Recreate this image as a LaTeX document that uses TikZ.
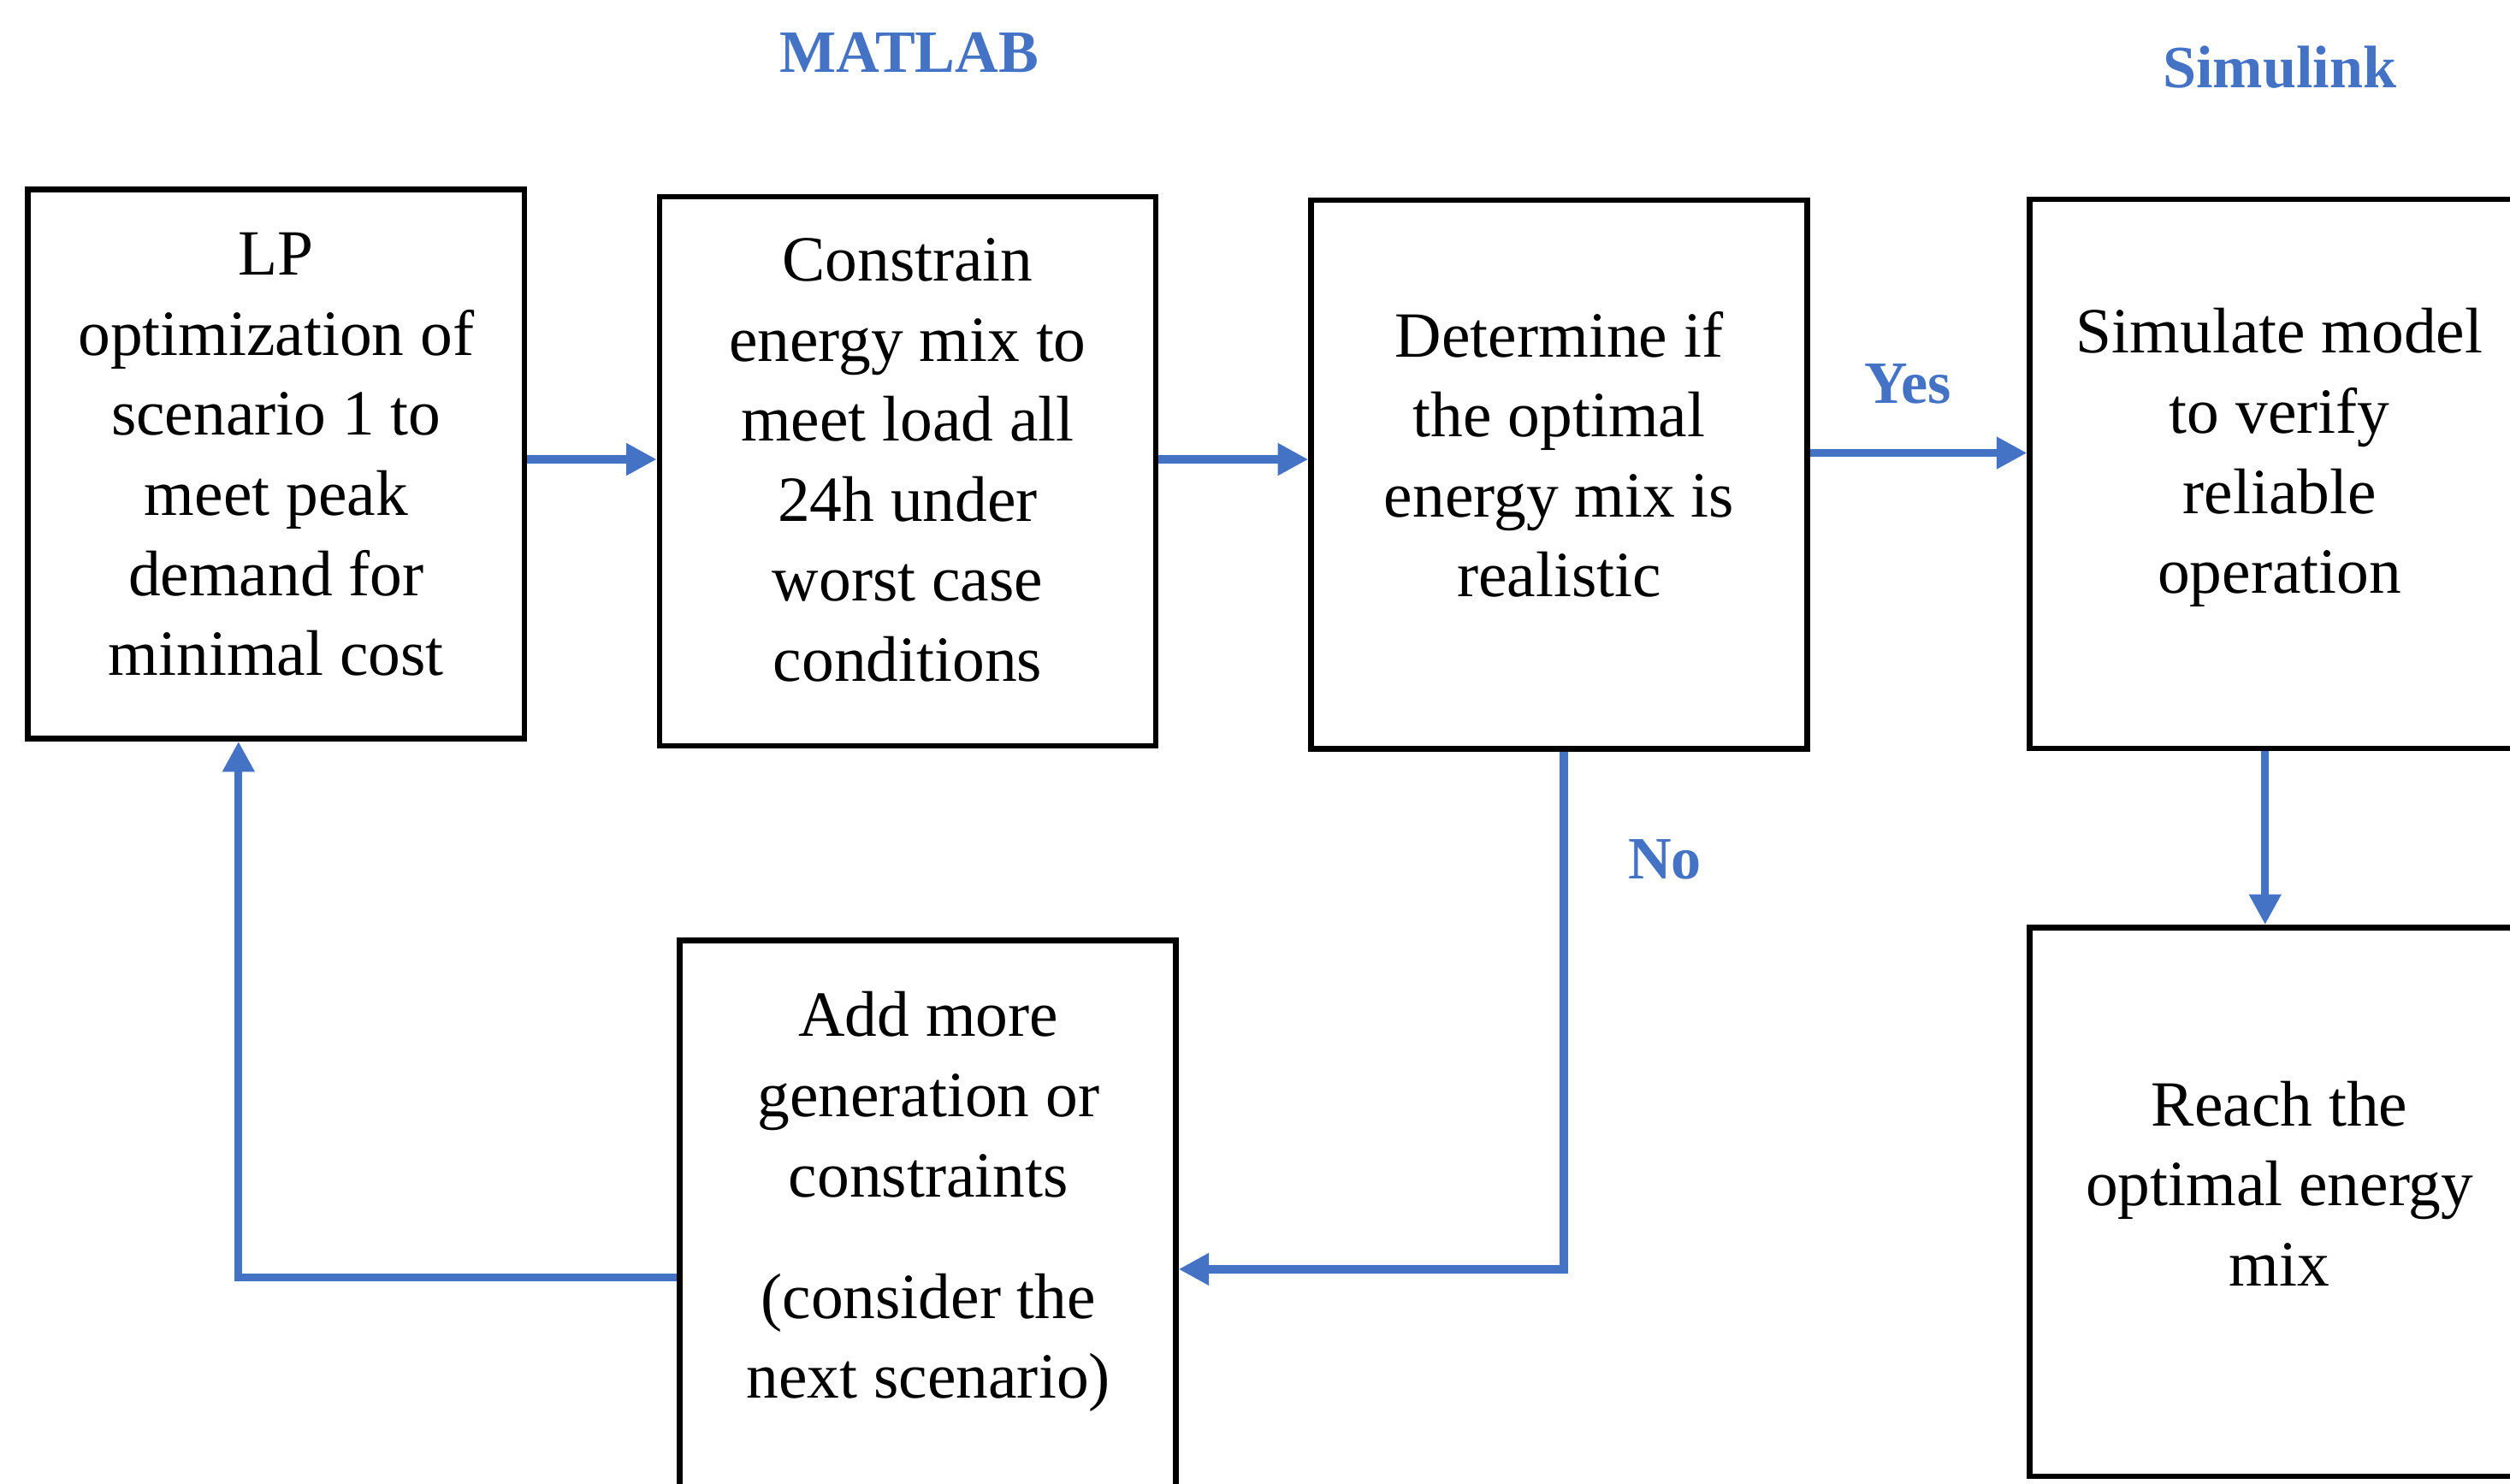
\documentclass[tikz,border=0pt]{standalone}
\usepackage{fontspec}
\setmainfont{Liberation Serif}
\usetikzlibrary{arrows.meta,calc}
\definecolor{ablue}{HTML}{4472C4}
\tikzset{
  box/.style={draw=black, line width=3.5pt, minimum width=310pt, minimum height=343pt, inner sep=0pt},
  btext/.style={align=center, font=\fontsize{40.3}{50}\selectfont, inner sep=0pt},
  arr/.style={draw=ablue, line width=5pt, -{Triangle[length=19pt,width=19pt]}},
  lab/.style={text=ablue, font=\fontsize{37.5}{42}\selectfont\bfseries, inner sep=0pt},
}
\begin{document}
\begin{tikzpicture}[x=1pt,y=-1pt]
\useasboundingbox (0,0) rectangle (1568,927);
\clip (0,0) rectangle (1568,927);
\fill[white] (0,0) rectangle (1568,927);
% boxes
\node[box] (b1) at (172.5,290) {};
\node[box] (b2) at (567,294.5) {};
\node[box] (b3) at (974,296.5) {};
\node[box] (b4) at (1423,296) {};
\node[box] (b5) at (1423,751) {};
\node[box] (b6) at (579.5,759) {};
% texts
\node[btext] (t1) at (172.5,284) {LP\\optimization of\\scenario 1 to\\meet peak\\demand for\\minimal cost};
\node[btext] (t2) at (567,287.5) {Constrain\\energy mix to\\meet load all\\24h under\\worst case\\conditions};
\node[btext] (t3) at (974,284) {Determine if\\the optimal\\energy mix is\\realistic};
\node[btext] (t4) at (1424,286) {Simulate model\\to verify\\reliable\\operation};
\node[btext] (t5) at (1424,739.5) {Reach the\\optimal energy\\mix};
\node[btext] (t6) at (580,751) {Add more\\generation or\\constraints\\[26pt] (consider the\\next scenario)};
% labels
\node[lab] (matlab) at (568,33) {MATLAB};
\node[lab] (simulink) at (1424,42) {Simulink};
\node[lab] (yes) at (1192,240) {Yes};
\node[lab] (no) at (1040,537) {No};
% connectors
\draw[arr] ([yshift=3pt]b1.east) -- ([yshift=3pt]b1.east -| b2.west);
\draw[arr] ([yshift=7.5pt]b2.east) -- ([yshift=7.5pt]b2.east -| b3.west);
\draw[arr] ([yshift=13.5pt]b3.east) -- ([yshift=13.5pt]b3.east -| b4.west);
\draw[arr] ([xshift=-8pt]b4.south) -- ([xshift=-8pt]b4.south |- b5.north);
\draw[arr] ([xshift=3pt]b3.south) |- ([yshift=-34pt]b6.east);
\draw[arr] ([yshift=-39pt]b6.west) -| ([xshift=-23.5pt]b1.south);
\end{tikzpicture}
\end{document}
